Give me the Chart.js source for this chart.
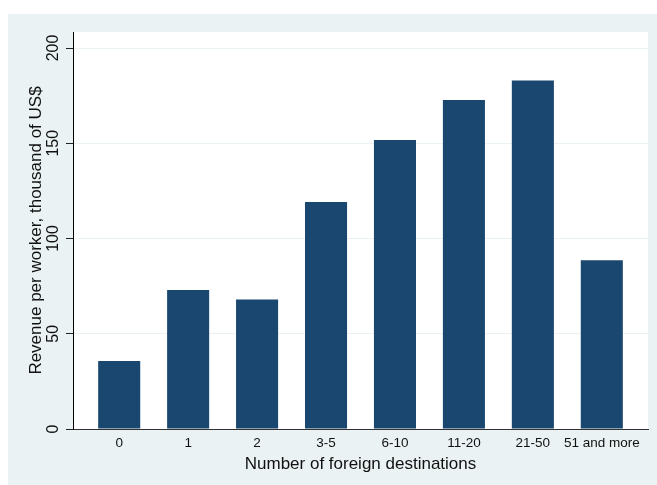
<!DOCTYPE html>
<html>
<head>
<meta charset="utf-8">
<script src="https://cdn.jsdelivr.net/npm/chart.js@4"></script>
<style>
  html, body { margin: 0; padding: 0; background: #fff; }
  canvas { display: block; }
</style>
</head>
<body>
<canvas id="chart" width="657" height="485"></canvas>
<script>
const categories = ['0', '1', '2', '3-5', '6-10', '11-20', '21-50', '51 and more'];
const revenue = [35.7, 73.0, 68.0, 119.2, 151.7, 172.7, 183.0, 88.6];
const yTicks = [0, 50, 100, 150, 200];

const FONT = '"Liberation Sans", Arial, sans-serif';
const PANEL = '#eaf2f3';

// stata-like backdrop: light panel + white plot region
const backdrop = {
    id: 'backdrop',
    beforeDraw(chart) {
        const { ctx, chartArea: a } = chart;
        ctx.save();
        ctx.fillStyle = '#fff';
        ctx.fillRect(0, 0, chart.width, chart.height);
        ctx.fillStyle = PANEL;
        ctx.fillRect(8, 14, chart.width - 8, chart.height - 14);
        ctx.fillStyle = '#fff';
        ctx.fillRect(a.left, a.top, a.right - a.left, a.bottom - a.top);
        ctx.restore();
    },
};

// rotated y tick labels, placed through the y scale
const yLabels = {
    id: 'yLabels',
    afterDraw(chart) {
        const { ctx } = chart;
        const y = chart.scales.y;
        ctx.save();
        ctx.font = '16px ' + FONT;
        ctx.fillStyle = '#111';
        ctx.textAlign = 'center';
        ctx.textBaseline = 'middle';
        yTicks.forEach((v) => {
            ctx.save();
            ctx.translate(y.left + 54, y.getPixelForValue(v));
            ctx.rotate(-Math.PI / 2);
            ctx.fillText(String(v), 0, 0);
            ctx.restore();
        });
        ctx.restore();
    },
};

new Chart(document.getElementById('chart'), {
    type: 'bar',
    data: {
        datasets: [{
            data: revenue.map((v, i) => ({ x: i, y: v })),
            backgroundColor: '#1a476f',
            borderWidth: 0,
            barPercentage: 0.61,
            categoryPercentage: 1,
        }],
    },
    options: {
        responsive: false,
        animation: false,
        devicePixelRatio: 1,
        layout: { padding: { left: 0, right: 9, top: 32, bottom: 0 } },
        plugins: {
            legend: { display: false },
            tooltip: { enabled: false },
        },
        scales: {
            x: {
                type: 'linear',
                offset: false,
                min: -0.67,
                max: 7.67,
                afterFit: (s) => { s.height = 56; },
                grid: { display: false, drawTicks: false },
                border: { display: true, color: '#333', width: 1 },
                ticks: {
                    stepSize: 1,
                    includeBounds: false,
                    autoSkip: false,
                    maxRotation: 0,
                    padding: 6,
                    color: '#111',
                    font: { family: FONT, size: 13.5 },
                    callback: (v) => categories[v],
                },
                title: {
                    display: true,
                    text: 'Number of foreign destinations',
                    color: '#111',
                    font: { family: FONT, size: 17, lineHeight: 1 },
                    padding: { top: 0, bottom: 12 },
                },
            },
            y: {
                min: 0,
                max: 208.4,
                afterFit: (s) => { s.width = 73; },
                grid: {
                    color: PANEL,
                    lineWidth: 1,
                    drawTicks: true,
                    tickLength: 7,
                    tickColor: '#222',
                },
                border: { display: true, color: '#000', width: 1 },
                ticks: {
                    stepSize: 50,
                    includeBounds: false,
                    display: false,
                },
                title: {
                    display: true,
                    text: 'Revenue per worker, thousand of US$',
                    color: '#111',
                    font: { family: FONT, size: 17, lineHeight: 1 },
                    padding: { top: 28, bottom: 0 },
                },
            },
        },
    },
    plugins: [backdrop, yLabels],
});
</script>
</body>
</html>
